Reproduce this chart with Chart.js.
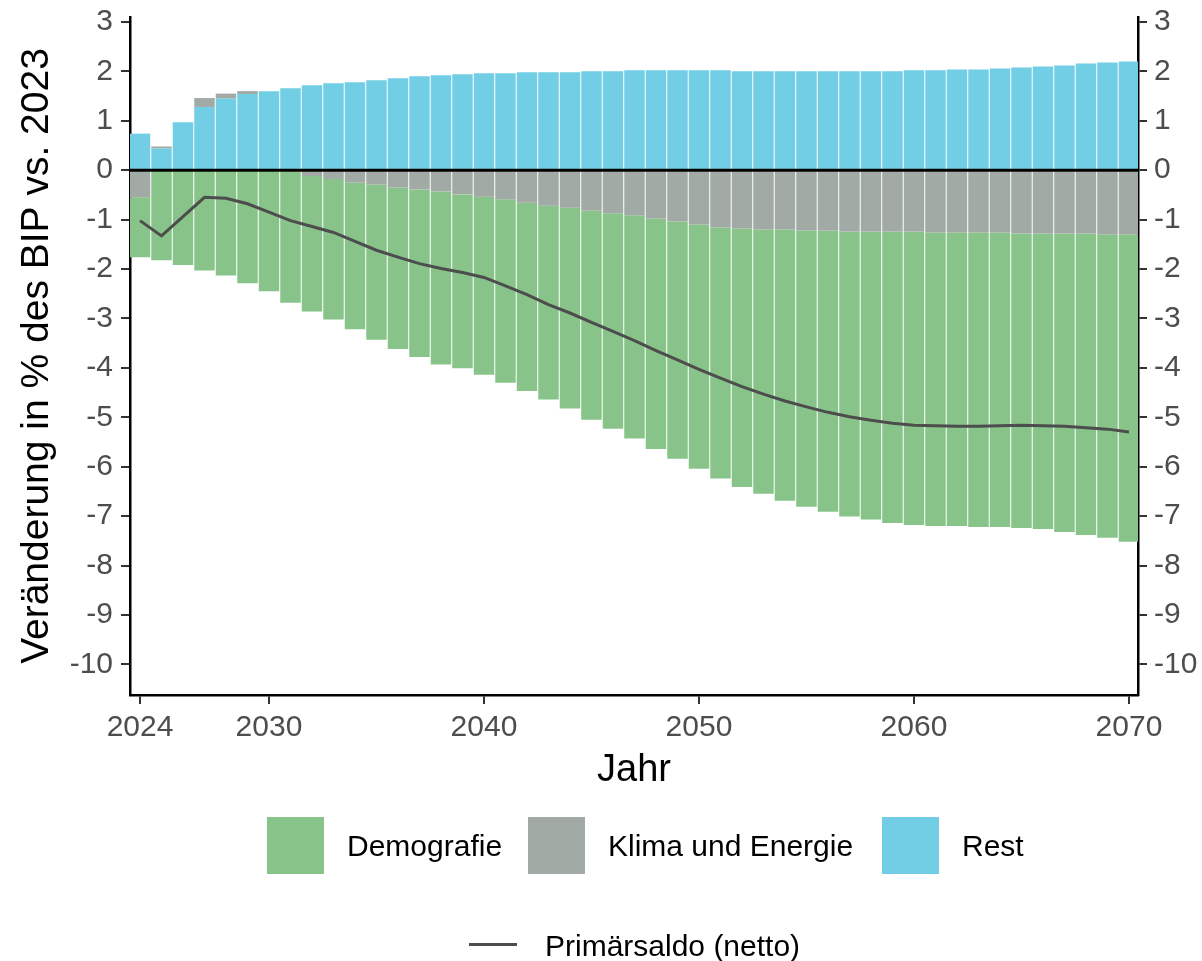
<!DOCTYPE html>
<html lang="de">
<head>
<meta charset="utf-8">
<title>Primärsaldo – Zerlegung</title>
<script src="https://cdn.jsdelivr.net/npm/chart.js@4.4.1/dist/chart.umd.min.js"></script>
<style>
  html, body { margin: 0; padding: 0; background: #fff; }
  .wrap { position: relative; width: 1202px; height: 961px; font-family: 'Liberation Sans', Arial, sans-serif; }
  canvas { position: absolute; left: 0; top: 0; }
  .sw { position: absolute; width: 57px; height: 57px; top: 817px; }
  .lbl { position: absolute; height: 57px; line-height: 57px; font-size: 30px; color: #000; white-space: nowrap; }
  .ln { position: absolute; left: 469px; top: 943px; width: 48px; height: 3px; background: #4d4d4d; }
</style>
</head>
<body>
<div class="wrap">
  <canvas id="chart" width="1202" height="961"></canvas>

  <div class="sw" style="left:267px;background:#88c48a"></div>
  <div class="lbl" style="left:347px;top:817px">Demografie</div>
  <div class="sw" style="left:528px;background:#a2aaa6"></div>
  <div class="lbl" style="left:608px;top:817px">Klima und Energie</div>
  <div class="sw" style="left:882px;background:#72cee4"></div>
  <div class="lbl" style="left:962px;top:817px">Rest</div>

  <div class="ln"></div>
  <div class="lbl" style="left:545px;top:917px">Primärsaldo (netto)</div>
</div>

<script>
const years = [2024, 2025, 2026, 2027, 2028, 2029, 2030, 2031, 2032, 2033, 2034, 2035,
  2036, 2037, 2038, 2039, 2040, 2041, 2042, 2043, 2044, 2045, 2046, 2047, 2048, 2049,
  2050, 2051, 2052, 2053, 2054, 2055, 2056, 2057, 2058, 2059, 2060, 2061, 2062, 2063,
  2064, 2065, 2066, 2067, 2068, 2069, 2070]

const rest = [0.74, 0.44, 0.97, 1.28, 1.45, 1.54, 1.60, 1.66, 1.72, 1.76, 1.78, 1.82,
  1.86, 1.90, 1.92, 1.94, 1.96, 1.96, 1.98, 1.98, 1.98, 2.00, 2.00, 2.02, 2.02, 2.02,
  2.02, 2.02, 2.00, 2.00, 2.00, 2.00, 2.00, 2.00, 2.00, 2.00, 2.02, 2.02, 2.04, 2.04,
  2.06, 2.08, 2.10, 2.12, 2.16, 2.18, 2.20]

const klimaEnergie = [-0.55, 0.04, 0.00, 0.18, 0.10, 0.06, 0.00, -0.03, -0.12, -0.18, -0.25, -0.29,
  -0.35, -0.39, -0.43, -0.49, -0.54, -0.59, -0.66, -0.72, -0.76, -0.82, -0.87, -0.91, -0.98, -1.04,
  -1.10, -1.16, -1.18, -1.20, -1.20, -1.22, -1.22, -1.24, -1.24, -1.24, -1.24, -1.26, -1.26, -1.26,
  -1.26, -1.28, -1.28, -1.28, -1.28, -1.30, -1.30]

const demografie = [-1.21, -1.82, -1.92, -2.03, -2.13, -2.29, -2.45, -2.65, -2.74, -2.84, -2.97, -3.14,
  -3.27, -3.39, -3.50, -3.52, -3.60, -3.71, -3.81, -3.92, -4.06, -4.23, -4.36, -4.52, -4.66, -4.80,
  -4.94, -5.08, -5.23, -5.35, -5.49, -5.59, -5.69, -5.77, -5.83, -5.90, -5.94, -5.94, -5.94, -5.96,
  -5.96, -5.96, -5.98, -6.04, -6.10, -6.14, -6.22]

const primaersaldo = [-1.02, -1.33, -0.94, -0.55, -0.57, -0.68, -0.85, -1.02, -1.14, -1.26, -1.44, -1.62,
  -1.76, -1.89, -1.99, -2.07, -2.17, -2.34, -2.52, -2.72, -2.89, -3.08, -3.26, -3.45, -3.65, -3.84,
  -4.03, -4.21, -4.38, -4.53, -4.67, -4.79, -4.90, -4.99, -5.06, -5.12, -5.16, -5.17, -5.18, -5.18,
  -5.17, -5.16, -5.17, -5.18, -5.21, -5.24, -5.30]

const xTickLabels = [2024, 2030, 2040, 2050, 2060, 2070]
const yTickLabels = [3, 2, 1, 0, -1, -2, -3, -4, -5, -6, -7, -8, -9, -10]

const toPoints = arr => arr.map((v, i) => ({ x: years[i], y: v }))

Chart.defaults.font.family = "'Liberation Sans', Arial, sans-serif"

// black line at zero, drawn over the bars
const zeroLine = {
	id: 'zeroLine',
	afterDatasetsDraw(chart) {
		const { ctx, chartArea, scales } = chart
		const y = scales.y.getPixelForValue(0)
		ctx.save()
		ctx.strokeStyle = '#000'
		ctx.lineWidth = 3
		ctx.beginPath()
		ctx.moveTo(chartArea.left, y)
		ctx.lineTo(chartArea.right, y)
		ctx.stroke()
		ctx.restore()
	},
}

const yRange = { min: -10.62, max: 3.1 }

const yAxis = (position, width, padding) => ({
	position,
	min: yRange.min,
	max: yRange.max,
	afterBuildTicks: s => {
		s.ticks = yTickLabels.map(v => ({ value: v }))
	},
	afterFit: s => {
		s.width = width
		s.paddingTop = 0
		s.paddingBottom = 0
	},
	border: { display: true, color: '#000', width: 2.5 },
	grid: { drawOnChartArea: false, drawTicks: true, tickLength: 9, color: '#333', lineWidth: 2 },
	ticks: {
		color: '#4d4d4d',
		font: { size: 30, lineHeight: 1 },
		padding,
		callback: v => String(v),
	},
})

new Chart(document.getElementById('chart'), {
	type: 'bar',
	data: {
		datasets: [
			{
				label: 'Rest',
				data: toPoints(rest),
				backgroundColor: '#72cee4',
				order: 1,
			},
			{
				label: 'Klima und Energie',
				data: toPoints(klimaEnergie),
				backgroundColor: '#a2aaa6',
				order: 1,
			},
			{
				label: 'Demografie',
				data: toPoints(demografie),
				backgroundColor: '#88c48a',
				order: 1,
			},
			{
				type: 'line',
				label: 'Primärsaldo (netto)',
				data: toPoints(primaersaldo),
				yAxisID: 'y2',
				borderColor: '#4d4d4d',
				borderWidth: 3,
				pointRadius: 0,
				tension: 0,
				order: 0,
			},
		],
	},
	options: {
		responsive: false,
		animation: false,
		devicePixelRatio: 1,
		layout: { padding: { top: 17, right: 0, bottom: 156, left: 0 } },
		datasets: {
			bar: { barPercentage: 1, categoryPercentage: 0.953, borderWidth: 0 },
		},
		plugins: {
			legend: { display: false },
			tooltip: { enabled: false },
		},
		scales: {
			x: {
				type: 'linear',
				min: 2023.535,
				max: 2070.42,
				offset: false,
				stacked: true,
				afterBuildTicks: s => {
					s.ticks = xTickLabels.map(v => ({ value: v }))
				},
				afterFit: s => {
					s.height = 110
					s.paddingLeft = 0
					s.paddingRight = 0
				},
				border: { display: true, color: '#000', width: 2.5 },
				grid: { offset: false, drawOnChartArea: false, drawTicks: true, tickLength: 9, color: '#333', lineWidth: 2 },
				ticks: {
					color: '#4d4d4d',
					font: { size: 30, lineHeight: 1 },
					padding: 9,
					maxRotation: 0,
					autoSkip: false,
					callback: v => String(v),
				},
				title: {
					display: true,
					text: 'Jahr',
					color: '#000',
					font: { size: 38 },
					padding: { top: 0, bottom: 12 },
				},
			},
			y: {
				...yAxis('left', 130, 8),
				stacked: true,
				title: {
					display: true,
					text: 'Veränderung in % des BIP vs. 2023',
					color: '#000',
					font: { size: 39 },
					padding: { top: 14, bottom: 0 },
				},
			},
			y2: {
				...yAxis('right', 64, 7),
			},
		},
	},
	plugins: [zeroLine],
})
</script>
</body>
</html>
